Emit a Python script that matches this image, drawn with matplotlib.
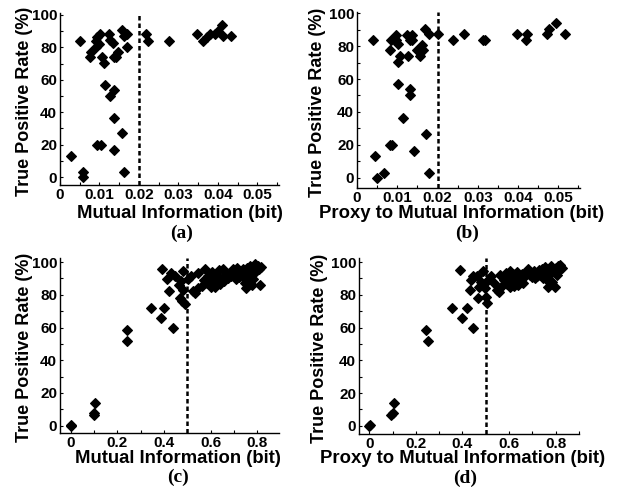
import matplotlib
matplotlib.use("Agg")
import matplotlib.pyplot as plt
from matplotlib.ticker import MultipleLocator

plt.rcParams['font.family'] = ['Liberation Sans', 'DejaVu Sans']
plt.rcParams['font.weight'] = 'bold'

W, H = 619, 494

# ---- data ----
# (a) Mutual Information vs TPR
a_x = [0.0027, 0.0051, 0.0058, 0.0058, 0.0075, 0.0078, 0.0092, 0.0092, 0.0095, 0.0098,
       0.0102, 0.0093, 0.0103, 0.0106, 0.0112, 0.0114, 0.0123, 0.0127, 0.0134, 0.0127,
       0.0138, 0.0136, 0.0142, 0.0146, 0.0138, 0.0136, 0.0157, 0.0163, 0.0171, 0.0171,
       0.0157, 0.0163, 0.0219, 0.0224, 0.0277, 0.0347, 0.0362, 0.0373, 0.0380, 0.0394,
       0.0400, 0.0411, 0.0414, 0.0434]
a_y = [13.2, 83.7, 3.3, 0, 74, 77, 83.7, 80.5, 86.6, 82,
       88, 20, 20, 74, 70.6, 57, 88, 84.6, 83, 50,
       54, 74, 74, 77, 36.6, 16.5, 90.7, 87, 88, 80.5,
       27, 3.3, 88, 83.7, 83.7, 88, 83.7, 86.6, 88, 88,
       90.3, 94, 87, 87]

# (b) Proxy to Mutual Information vs TPR
b_x = [0.0040, 0.0045, 0.0050, 0.0066, 0.0083, 0.0085, 0.0083, 0.0088, 0.0098, 0.0098,
       0.0101, 0.0101, 0.0106, 0.0103, 0.0114, 0.0124, 0.0126, 0.0131, 0.0132, 0.0131,
       0.0136, 0.0136, 0.0142, 0.0149, 0.0157, 0.0161, 0.0165, 0.0168, 0.0180, 0.0172,
       0.0178, 0.0202, 0.0238, 0.0266, 0.0312, 0.0318, 0.0398, 0.0421, 0.0423, 0.0473,
       0.0478, 0.0494, 0.0517]
b_y = [84, 13.2, 0, 3, 77.7, 84, 20, 20, 87, 84,
       81.5, 70.6, 74, 57, 36.5, 87, 74, 53.8, 50, 84,
       87, 84, 16.2, 77.7, 74, 81, 77.7, 90.7, 87.4, 26.6,
       3, 87.4, 84, 87.4, 84, 84, 87.4, 84, 87.4, 87.4,
       90.5, 94, 87.4]

# (c) Mutual Information vs TPR
c_x = [0, 0.003, 0.1, 0.1, 0.105, 0.24, 0.24, 0.343, 0.386, 0.4,
       0.44, 0.39, 0.415, 0.423, 0.43, 0.448, 0.48, 0.475, 0.469, 0.476,
       0.483, 0.49, 0.465, 0.505, 0.515, 0.526, 0.535, 0.548, 0.545, 0.562,
       0.57, 0.575, 0.584, 0.59, 0.598, 0.6, 0.605, 0.612, 0.618, 0.622,
       0.63, 0.635, 0.64, 0.648, 0.655, 0.66, 0.669, 0.675, 0.684, 0.69,
       0.698, 0.703, 0.708, 0.712, 0.718, 0.722, 0.727, 0.733, 0.738, 0.742,
       0.746, 0.748, 0.752, 0.755, 0.76, 0.765, 0.77, 0.775, 0.777, 0.781,
       0.784, 0.79, 0.795, 0.8, 0.805, 0.81, 0.812, 0.815]
c_y = [0, 0.5, 6.5, 8, 14, 58.5, 51.7, 72, 65.9, 72,
       60, 95.5, 89.4, 82.6, 93.5, 91.4, 94.5, 88.3, 78.2, 76.1,
       83.2, 74.5, 86, 89.4, 91.4, 82.2, 81, 93.5, 84, 85.3,
       89, 95.5, 87.4, 91.5, 90.2, 84.5, 93.8, 87.4, 85, 92,
       89.3, 95, 86.5, 90.2, 95.5, 88.5, 92.4, 90, 93.6, 91.5,
       95.5, 92, 89.5, 96.5, 93, 91, 94.5, 92.5, 96, 90.5,
       94, 87.4, 84.3, 96.5, 93.5, 91, 97.5, 95, 85.7, 92.5,
       89.5, 98.6, 94.5, 96.5, 97.6, 95.5, 85.7, 97]

# (d) Proxy to Mutual Information vs TPR
d_x = [0, 0.003, 0.095, 0.1, 0.105, 0.245, 0.25, 0.355, 0.398, 0.421,
       0.445, 0.388, 0.438, 0.433, 0.445, 0.463, 0.47, 0.466, 0.49, 0.497,
       0.502, 0.505, 0.48, 0.505, 0.524, 0.546, 0.535, 0.555, 0.56, 0.57,
       0.578, 0.585, 0.59, 0.598, 0.602, 0.605, 0.612, 0.618, 0.622, 0.63,
       0.635, 0.64, 0.648, 0.655, 0.66, 0.668, 0.675, 0.682, 0.69, 0.698,
       0.705, 0.71, 0.715, 0.72, 0.728, 0.733, 0.74, 0.745, 0.748, 0.752,
       0.758, 0.762, 0.765, 0.77, 0.775, 0.78, 0.785, 0.79, 0.795, 0.8,
       0.805, 0.81, 0.815, 0.82, 0.825]
d_y = [0, 0.5, 6.5, 8, 14, 58.5, 51.7, 72, 66, 72,
       60, 95, 89, 83, 91.4, 91.4, 85, 78, 94.5, 84,
       78.5, 75, 88, 88.5, 91.4, 83, 87, 81.5, 92, 85.5,
       89, 93.5, 86.5, 91, 94.5, 84.5, 88, 92.5, 85.5, 90,
       94, 86, 89.5, 93, 87.5, 91.5, 94.5, 96, 92, 91,
       94.5, 90, 93.5, 91.5, 95, 92, 96, 90.5, 93.5, 97,
       94, 89, 85, 96, 92.5, 97.5, 88, 94.5, 84.8, 96.5,
       92, 97.5, 95, 98, 96.5]

panels = [
    # x, y, box (left, top, right, bottom px), xlim, ylim, xstep, thr, xlabel, letter
    (a_x, a_y, (60, 13, 279, 185), (0, 0.0555), (-4.9, 101.2), 0.01, 0.02,
     'Mutual Information (bit)', '(a)', (180, 213), 25, (182, 233)),
    (b_x, b_y, (357, 12, 580, 188), (0, 0.0554), (-6.3, 100.8), 0.01, 0.02,
     'Proxy to Mutual Information (bit)', '(b)', (462, 213), 317, (467, 233)),
    (c_x, c_y, (60, 258, 279, 433), (-0.046, 0.894), (-4.5, 102.5), 0.2, 0.5,
     'Mutual Information (bit)', '(c)', (178, 458), 25, (178, 477)),
    (d_x, d_y, (359, 258, 579, 434), (-0.044, 0.9), (-5, 102.5), 0.2, 0.5,
     'Proxy to Mutual Information (bit)', '(d)', (463, 458), 319, (465, 478)),
]

fig = plt.figure(figsize=(W / 100, H / 100), dpi=100)

for x, y, box, xl, yl, xs, thr, xlab, letter, xlpos, ylx, letpos in panels:
    l, t, r, b = box
    ax = fig.add_axes([l / W, (H - b) / H, (r - l) / W, (b - t) / H])
    ax.plot(x, y, 'D', color='black', markersize=5.5, markeredgewidth=0.8)
    ax.axvline(thr, color='black', lw=1.8, linestyle=(0, (1.8, 1.2)))
    ax.set_xlim(xl)
    ax.set_ylim(yl)
    for s in ['top', 'right']:
        ax.spines[s].set_visible(False)
    for s in ['left', 'bottom']:
        ax.spines[s].set_linewidth(1.0)
    ax.xaxis.set_major_locator(MultipleLocator(xs))
    ax.xaxis.set_minor_locator(MultipleLocator(xs / 2))
    ax.yaxis.set_major_locator(MultipleLocator(20))
    ax.yaxis.set_minor_locator(MultipleLocator(10))
    ax.tick_params(which='both', direction='in', length=2.5, width=0.8, labelsize=11, pad=2)
    if xs == 0.01:
        ax.set_xticks([0, 0.01, 0.02, 0.03, 0.04, 0.05])
        ax.set_xticklabels(['0', '0.01', '0.02', '0.03', '0.04', '0.05'])
    else:
        ax.set_xticks([0, 0.2, 0.4, 0.6, 0.8])
        ax.set_xticklabels(['0', '0.2', '0.4', '0.6', '0.8'])
    ax.set_yticks([0, 20, 40, 60, 80, 100])
    for lab in ax.get_xticklabels() + ax.get_yticklabels():
        lab.set_fontweight('bold')

    fig.text(xlpos[0] / W, 1 - xlpos[1] / H, xlab, ha='center', va='center',
             fontsize=13.3, fontweight='bold')
    fig.text(ylx / W, 1 - ((t + b) / 2 + 2) / H, 'True Positive Rate (%)', ha='center',
             va='center', rotation=90, fontsize=13, fontweight='bold')
    fig.text(letpos[0] / W, 1 - letpos[1] / H, letter, ha='center', va='center',
             fontsize=14, fontweight='bold', family=['Liberation Serif', 'DejaVu Serif'])

fig.savefig('out.png', dpi=100)
